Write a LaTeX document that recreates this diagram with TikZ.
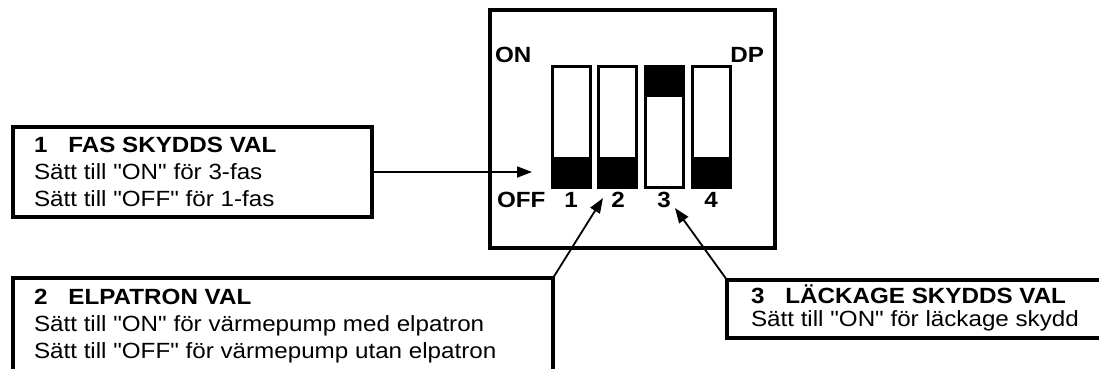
\documentclass[tikz,border=0pt]{standalone}
\usepackage{fontspec}
\setmainfont{Liberation Sans}[Ligatures=TeXOff,FakeStretch=1.1]
\usetikzlibrary{arrows.meta}
\begin{document}
\begin{tikzpicture}[x=1pt,y=-1pt,
  every node/.style={inner sep=0pt,outer sep=0pt},
  infobox/.style={draw=black,line width=4pt,fill=white,anchor=north west},
  txt/.style={anchor=base west,font=\fontsize{22}{26}\selectfont},
  btxt/.style={anchor=base west,font=\fontsize{22}{26}\selectfont\bfseries},
  lbl/.style={font=\fontsize{22}{26}\selectfont\bfseries},
  swbox/.style={draw=black,line width=3pt,fill=white,minimum width=38pt,minimum height=121pt},
  arr/.style={line width=1.8pt,-{Triangle[length=15pt,width=11pt]}}]
\clip (0,0) rectangle (1099,368);
\fill[white] (0,0) rectangle (1099,368);
% main DIP switch housing
\node[infobox,minimum width=285pt,minimum height=238pt] (housing) at (490,10) {};
% switches
\node[swbox] (s1) at (571,126.5) {};
\node[swbox] (s2) at (617,126.5) {};
\node[swbox] (s3) at (664,126.5) {};
\node[swbox] (s4) at (711,126.5) {};
\fill[black] (s1.south west) rectangle ([yshift=30pt]s1.south east);
\fill[black] (s2.south west) rectangle ([yshift=30pt]s2.south east);
\fill[black] (s4.south west) rectangle ([yshift=30pt]s4.south east);
\fill[black] (s3.north west) rectangle ([yshift=-31pt]s3.north east);
\draw[line width=3pt] (s1.south west) rectangle (s1.north east);
\draw[line width=3pt] (s2.south west) rectangle (s2.north east);
\draw[line width=3pt] (s3.south west) rectangle (s3.north east);
\draw[line width=3pt] (s4.south west) rectangle (s4.north east);
% labels
\node[lbl,anchor=base west] (on) at (495,62) {ON};
\node[lbl,anchor=base east] (dp) at (764,62) {DP};
\node[lbl,anchor=base west] (off) at (497,207) {OFF};
\node[lbl,anchor=base] (n1) at (571,207) {1};
\node[lbl,anchor=base] (n2) at (618,207) {2};
\node[lbl,anchor=base] (n3) at (664,207) {3};
\node[lbl,anchor=base] (n4) at (711,207) {4};
% info boxes
\node[infobox,minimum width=359pt,minimum height=90pt] (b1) at (13,127) {};
\node[btxt] (b1h) at (34,152) {1\hspace{21pt}FAS SKYDDS VAL};
\node[txt] (b1a) at (34,179) {Sätt till "ON" för 3-fas};
\node[txt] (b1b) at (34,206) {Sätt till "OFF" för 1-fas};

\node[infobox,minimum width=540pt,minimum height=140pt] (b2) at (13,278) {};
\node[btxt] (b2h) at (34,304) {2\hspace{21pt}ELPATRON VAL};
\node[txt] (b2a) at (34,331) {Sätt till "ON" för värmepump med elpatron};
\node[txt] (b2b) at (34,358) {Sätt till "OFF" för värmepump utan elpatron};

\node[infobox,minimum width=420pt,minimum height=58pt] (b3) at (727,280) {};
\node[btxt] (b3h) at (751,303) {3\hspace{21pt}LÄCKAGE SKYDDS VAL};
\node[txt] (b3a) at (751,326) {Sätt till "ON" för läckage skydd};
% arrows
\coordinate (t1) at (532,172);
\coordinate (t2) at (603,198);
\coordinate (t3) at (675,208);
\draw[arr] (b1.east) -- (t1);
\draw[arr] (b2.north east) -- (t2);
\draw[arr] (b3.north west) -- (t3);
\end{tikzpicture}
\end{document}
